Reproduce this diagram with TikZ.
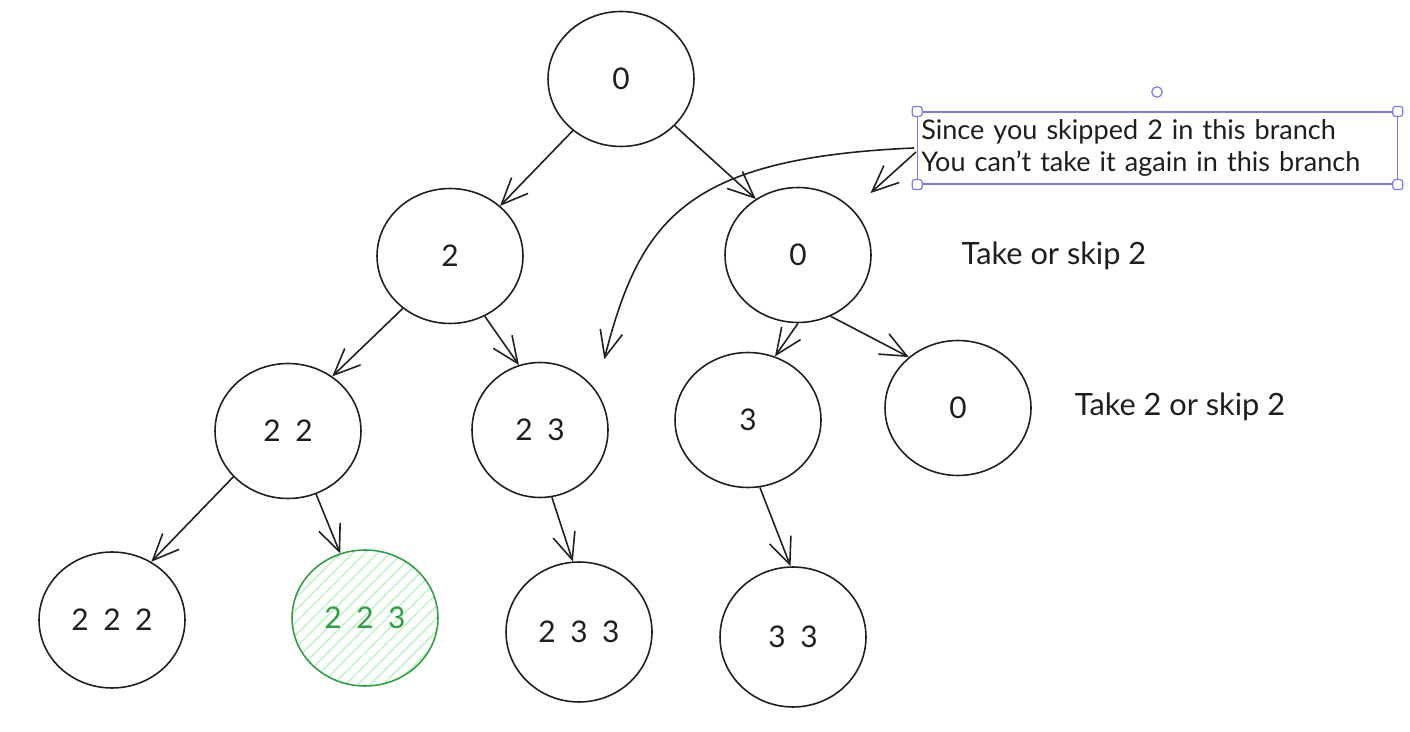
\documentclass[tikz,border=0pt]{standalone}
\usepackage{fontspec}
\setmainfont{Lato}
\newfontfamily\statefont[WordSpace=1.9]{Lato}
\usepackage{tikz}
\usetikzlibrary{arrows.meta,positioning,shapes.geometric,patterns.meta}
\definecolor{ink}{HTML}{1E1E1E}
\definecolor{okgreen}{HTML}{2F9E44}
\definecolor{okhatch}{HTML}{B2F2BB}
\definecolor{selblue}{HTML}{7D7DE6}

\begin{document}
\begin{tikzpicture}[
      x=0.02cm, y=-0.02cm,
      state/.style  = {ellipse, draw=ink, line width=0.9pt, inner sep=0pt,
                       minimum width=2.92cm, minimum height=2.7cm,
                       font=\statefont\fontsize{17}{20}\selectfont, text=ink},
      good/.style   = {state, draw=okgreen, text=okgreen,
                       pattern={Lines[angle=45,distance=5pt,line width=0.7pt]},
                       pattern color=okhatch},
      arr/.style    = {-{Straight Barb[length=15pt,width=13pt]}, line width=0.9pt, draw=ink},
      lbl/.style    = {font=\fontsize{17.5}{21}\selectfont, text=ink},
      handle/.style = {draw=selblue, fill=white, rounded corners=1.5pt,
                       minimum size=0.2cm, inner sep=0pt, line width=0.7pt},
    ]
    \useasboundingbox (0,0) rectangle (1410,732);

    % ---- level 0 ----
    \node[state] (root) at (621,79) {0};

    % ---- level 1 ----
    \node[state] (n2)  at (450,256) {2};
    \node[state] (n0)  at (798,255) {0};

    % ---- level 2 ----
    \node[state] (n22) at (288,431) {2 2};
    \node[state, minimum width=2.72cm] (n23) at (540,430) {2 3};
    \node[state] (n3)  at (748,420) {3};
    \node[state] (n0b) at (958,408) {0};

    % ---- level 3 ----
    \node[state, minimum height=2.72cm] (n222) at (112,620) {2 2 2};
    \node[good, minimum height=2.72cm]  (n223) at (365,618) {2 2 3};
    \node[state, minimum height=2.8cm]  (n233) at (579,632) {2 3 3};
    \node[state, minimum height=2.8cm]  (n33)  at (793,637) {3 3};

    % tree edges
    \draw[arr] (root.227) -- (n2.45);
    \draw[arr] (root.-41) -- (n0.127);
    \draw[arr] (n2.228)   -- (n22.51);
    \draw[arr] (n2.-60)   -- (n23.108);
    \draw[arr] (n0.270)   -- (n3.67);
    \draw[arr] (n0.-62)   -- (n0b.134);
    \draw[arr] (n22.220)  -- (n222.56);
    \draw[arr] (n22.-66)  -- (n223.111);
    \draw[arr] (n23.-80)  -- (n233.95);
    \draw[arr] (n3.-80)   -- (n33.92);

    % level labels
    \node[lbl] (lvl1) at (1054,256) {Take or skip 2};
    \node[lbl] (lvl2) at (1180,407) {Take 2 or skip 2};

    % ---- note with selection frame ----
    \node[draw=selblue, line width=0.7pt, minimum width=9.58cm, minimum height=1.44cm,
          inner sep=2pt, align=left, text width=9.45cm,
          font=\fontsize{15.4}{18.6}\selectfont, text=ink] (note) at (1157.5,148)
          {Since you skipped 2 in this branch\\You can't take it again in this branch};
    \node[handle] (hnw) at (note.north west) {};
    \node[handle] (hne) at (note.north east) {};
    \node[handle] (hsw) at (note.south west) {};
    \node[handle] (hse) at (note.south east) {};
    \node[handle, circle, minimum size=0.21cm] (hrot) at (1157,92) {};

    \coordinate (noteA) at (914,148);
    \coordinate (noteB) at (916,152);
    \draw[arr, shorten >=0.65cm] (noteA) .. controls (685,158) and (640,220) .. (n23.35);
    \draw[arr, shorten >=0.48cm] (noteB) -- (n0.40);
  \end{tikzpicture}
\end{document}
